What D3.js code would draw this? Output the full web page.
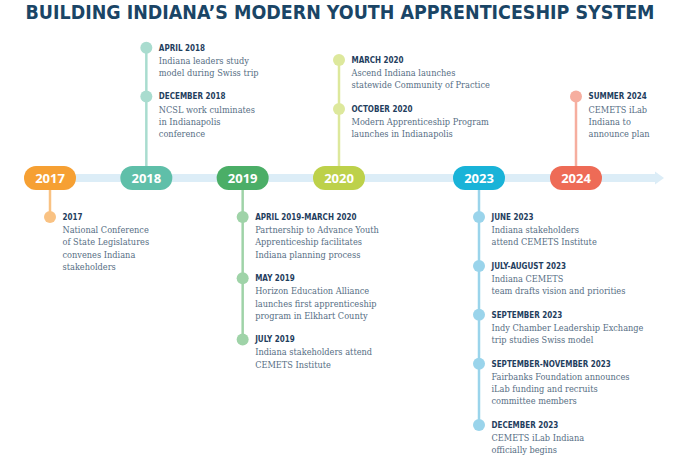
<!DOCTYPE html>
<html lang="en">
<head>
    <meta charset="UTF-8">
    <title>Building Indiana's Modern Youth Apprenticeship System</title>
    <script src="https://d3js.org/d3.v7.min.js"></script>
    <style>
        body { margin: 0; background: #fff; }
        .title { font-family: "DejaVu Sans Condensed", "DejaVu Sans", sans-serif; font-weight: bold; fill: #1a4566; }
        .year { font-family: "Open Sans", sans-serif; font-weight: bold; fill: #fff; font-size: 13px; }
        .date { font-family: "DejaVu Sans Condensed", "DejaVu Sans", sans-serif; font-weight: bold; fill: #1f3e5e; font-size: 8px; }
        .body { font-family: "DejaVu Serif Condensed", "DejaVu Serif", serif; fill: #566e84; font-size: 9.15px; }
    </style>
</head>
<body>
<svg width="680" height="464"></svg>
<script>
    const years = [2017, 2018, 2019, 2020, 2023, 2024];
    const yearColors = ["#f6a033", "#5fbfa9", "#4bae67", "#bdd14a", "#19b3d8", "#ee6b56"];
    const tintColors = ["#f9c283", "#a9dccf", "#9fd3a8", "#dde89c", "#9ad4eb", "#f6ae9f"];
    const yearSides = ["below", "above", "below", "above", "below", "above"];

    const eventYear = [2017, 2018, 2018, 2019, 2019, 2019, 2020, 2020,
        2023, 2023, 2023, 2023, 2023, 2024];
    const eventDate = ["2017", "APRIL 2018", "DECEMBER 2018", "APRIL 2019-MARCH 2020",
        "MAY 2019", "JULY 2019", "MARCH 2020", "OCTOBER 2020", "JUNE 2023",
        "JULY-AUGUST 2023", "SEPTEMBER 2023", "SEPTEMBER-NOVEMBER 2023",
        "DECEMBER 2023", "SUMMER 2024"];
    const eventText = [
        ["National Conference", "of State Legislatures", "convenes Indiana", "stakeholders"],
        ["Indiana leaders study", "model during Swiss trip"],
        ["NCSL work culminates", "in Indianapolis", "conference"],
        ["Partnership to Advance Youth", "Apprenticeship facilitates", "Indiana planning process"],
        ["Horizon Education Alliance", "launches first apprenticeship", "program in Elkhart County"],
        ["Indiana stakeholders attend", "CEMETS Institute"],
        ["Ascend Indiana launches", "statewide Community of Practice"],
        ["Modern Apprenticeship Program", "launches in Indianapolis"],
        ["Indiana stakeholders", "attend CEMETS Institute"],
        ["Indiana CEMETS", "team drafts vision and priorities"],
        ["Indy Chamber Leadership Exchange", "trip studies Swiss model"],
        ["Fairbanks Foundation announces", "iLab funding and recruits", "committee members"],
        ["CEMETS iLab Indiana", "officially begins"],
        ["CEMETS iLab", "Indiana to", "announce plan"]
    ];

    const svg = d3.select("svg");
    const width = +svg.attr("width");

    const axisY = 178, pillW = 52, pillH = 24;
    const lineH = 12.3, labelGap = 12.8, eventGap = 12;

    // uneven spacing: the 2020 -> 2023 jump is compressed
    const x = d3.scaleLinear()
        .domain([2017, 2020, 2023, 2024])
        .range([50, 339, 479, 576]);

    svg.append("text")
        .attr("class", "title")
        .attr("x", width / 2)
        .attr("y", 19)
        .attr("text-anchor", "middle")
        .attr("font-size", 19)
        .attr("textLength", 629)
        .attr("lengthAdjust", "spacingAndGlyphs")
        .text("BUILDING INDIANA\u2019S MODERN YOUTH APPRENTICESHIP SYSTEM");

    // timeline arrow
    svg.append("line")
        .attr("x1", x(2017)).attr("x2", 656)
        .attr("y1", axisY).attr("y2", axisY)
        .attr("stroke", "#dcedf7").attr("stroke-width", 8);
    svg.append("path")
        .attr("d", `M655,${axisY - 6.5}L664,${axisY}L655,${axisY + 6.5}Z`)
        .attr("fill", "#dcedf7");

    // stack the events of each year
    const events = eventDate.map((d, i) => ({
        year: eventYear[i], date: d, lines: eventText[i]
    }));
    const groups = d3.groups(events, d => d.year);
    const blockH = e => lineH * (1 + e.lines.length) + eventGap;

    groups.forEach(([year, evs]) => {
        const yi = years.indexOf(year);
        const side = yearSides[yi];
        let y;
        if (side === "below") {
            y = 217;
        } else {
            const last = evs[evs.length - 1];
            const before = d3.sum(evs.slice(0, -1), blockH);
            y = 134 - before - labelGap - (last.lines.length - 1) * lineH;
        }
        evs.forEach(e => {
            e.y = y;
            y += blockH(e);
        });
        const ys = evs.map(e => e.y);
        const y1 = side === "below" ? axisY + pillH / 2 : d3.min(ys);
        const y2 = side === "below" ? d3.max(ys) : axisY - pillH / 2;

        const g = svg.append("g");
        g.append("line")
            .attr("x1", x(year)).attr("x2", x(year))
            .attr("y1", y1).attr("y2", y2)
            .attr("stroke", tintColors[yi]).attr("stroke-width", 2.5);

        const ev = g.selectAll("g.event")
            .data(evs)
            .join("g")
            .attr("class", "event")
            .attr("transform", d => `translate(${x(year)},${d.y})`);

        ev.append("circle")
            .attr("r", 6)
            .attr("fill", tintColors[yi]);

        ev.append("text")
            .attr("class", "date")
            .attr("x", 12.5)
            .attr("dy", "0.36em")
            .text(d => d.date);

        ev.selectAll("text.body")
            .data(d => d.lines)
            .join("text")
            .attr("class", "body")
            .attr("x", 12.5)
            .attr("y", (d, i) => labelGap + i * lineH)
            .attr("dy", "0.36em")
            .text(d => d);
    });

    // year pills
    const pill = svg.selectAll("g.pill")
        .data(years)
        .join("g")
        .attr("class", "pill")
        .attr("transform", d => `translate(${x(d)},${axisY})`);

    pill.append("rect")
        .attr("x", -pillW / 2).attr("y", -pillH / 2)
        .attr("width", pillW).attr("height", pillH)
        .attr("rx", pillH / 2)
        .attr("fill", (d, i) => yearColors[i]);

    pill.append("text")
        .attr("class", "year")
        .attr("text-anchor", "middle")
        .attr("dy", "0.36em")
        .text(d => d);
</script>
</body>
</html>
